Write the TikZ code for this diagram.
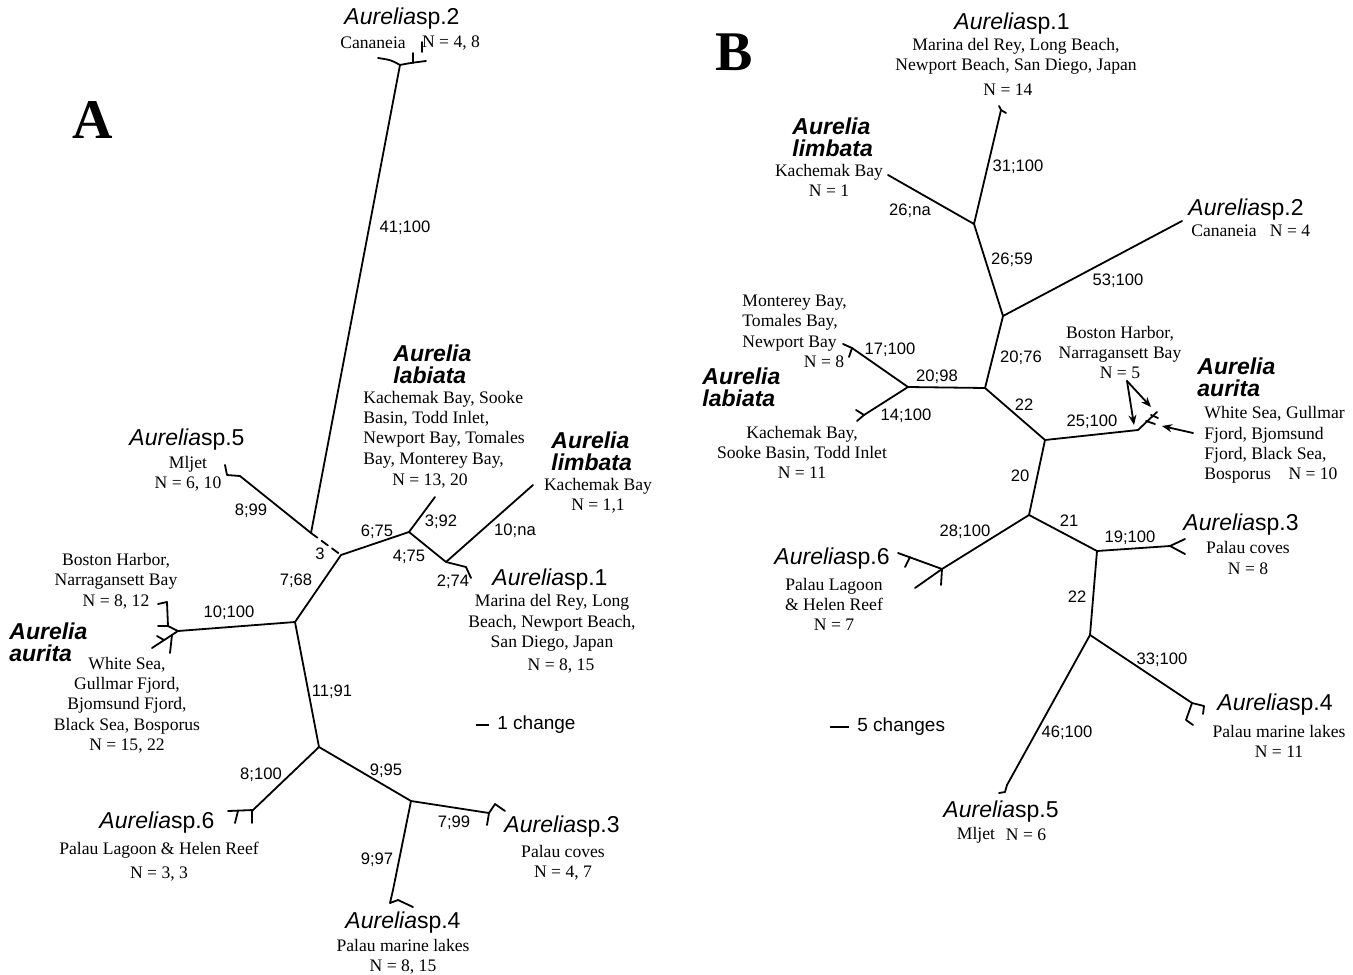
\documentclass[tikz,border=0pt]{standalone}
\usepackage{fontspec}
\setmainfont{Liberation Serif}
\setsansfont{Liberation Sans}
\usetikzlibrary{arrows.meta}
\newcommand{\aursp}[1]{\textit{Aurelia}sp.#1}
\begin{document}
\begin{tikzpicture}[x=0.5pt,y=-0.5pt,
  br/.style={line width=0.9pt, line cap=round, line join=round},
  arr/.style={br, -{Stealth[length=5pt,width=4pt]}},
  sp/.style={font=\sffamily\fontsize{11.5}{13}\selectfont, inner sep=0pt},
  loc/.style={font=\fontsize{8.8}{10.15}\selectfont, inner sep=0pt, align=center},
  locl/.style={loc, align=left},
  bl/.style={font=\sffamily\fontsize{8.3}{10}\selectfont, inner sep=0pt},
  bi/.style={font=\sffamily\bfseries\itshape\fontsize{11.5}{11}\selectfont, inner sep=0pt, align=left, anchor=west},
  panel/.style={font=\bfseries\fontsize{28}{30}\selectfont, inner sep=0pt},
  scl/.style={font=\sffamily\fontsize{9.5}{11}\selectfont, inner sep=0pt, anchor=west}]
\useasboundingbox (0,0) rectangle (1353,974);
\fill[white] (0,0) rectangle (1353,974);

% ================= Panel A =================
\node[panel] (pA) at (93,120) {A};

\coordinate (a2) at (400,65);
\coordinate (aD) at (311,533);
\coordinate (aX) at (341,555);
\coordinate (a5) at (240,476);
\coordinate (aL1) at (409,532);
\coordinate (alab) at (435,497);
\coordinate (aL2) at (446,562);
\coordinate (alim) at (533,485);
\coordinate (a1) at (466,567);
\coordinate (aN2) at (295,622);
\coordinate (aaur) at (178,631);
\coordinate (aN3) at (319,747);
\coordinate (a6) at (252,811);
\coordinate (aN4) at (411,801);
\coordinate (a3) at (489,813);
\coordinate (a4) at (393,890);

\draw[br] (a2) -- (aD);
\draw[br, dashed, dash pattern=on 4pt off 2.5pt] (aD) -- (aX);
\draw[br] (aD) -- (a5);
\draw[br] (aX) -- (aL1) -- (alab);
\draw[br] (aL1) -- (aL2) -- (alim);
\draw[br] (aL2) -- (a1);
\draw[br] (aX) -- (aN2) -- (aaur);
\draw[br] (aN2) -- (aN3) -- (a6);
\draw[br] (aN3) -- (aN4) -- (a3);
\draw[br] (aN4) -- (a4);

% tips A
\draw[br] (378,58) .. controls (391,60) .. (a2) .. controls (410,63) .. (426,61);
\draw[br] (413,63) -- (413,53);
\draw[br] (422,52) -- (422,42);
\draw[br] (a5) -- (227,475) -- (225,465);
\draw[br] (a1) -- (471,578);
\draw[br] (aaur) -- (168,626) -- (167,602) -- (158,604);
\draw[br] (168,626) -- (158,626);
\draw[br] (aaur) -- (152,648);
\draw[br] (172,635) -- (170,653);
\draw[br] (164,640) -- (157,636);
\draw[br] (228,811) -- (253,810);
\draw[br] (238,811) -- (235,823);
\draw[br] (252,810) -- (252,823);
\draw[br] (a3) -- (487,825);
\draw[br] (a3) -- (495,804) -- (505,811);
\draw[br] (a4) -- (390,903) -- (398,900) -- (413,907);

% branch labels A
\node[bl] (lA41) at (405,228) {41;100};
\node[bl] (lA899) at (251,511) {8;99};
\node[bl] (lA3) at (320,554) {3};
\node[bl] (lA675) at (377,532) {6;75};
\node[bl] (lA392) at (441,522) {3;92};
\node[bl] (lA475) at (409,557) {4;75};
\node[bl] (lA10na) at (515,531) {10;na};
\node[bl] (lA274) at (453,582) {2;74};
\node[bl] (lA768) at (296,581) {7;68};
\node[bl] (lA10100) at (229,613) {10;100};
\node[bl] (lA1191) at (332,692) {11;91};
\node[bl] (lA8100) at (261,775) {8;100};
\node[bl] (lA995) at (386,771) {9;95};
\node[bl] (lA799) at (454,823) {7;99};
\node[bl] (lA997) at (377,860) {9;97};

% taxon labels A
\node[sp] (sA2) at (402,19) {\aursp{2}};
\node[loc] (cA2) at (373,43) {Cananeia};
\node[loc] (nA2) at (451,43) {N = 4, 8};

\node[sp] (sA5) at (187,440) {\aursp{5}};
\node[loc] (cA5) at (188,473.5) {Mljet\\N = 6, 10};

\node[bi] (bA_lab) at (393,364) {Aurelia\\labiata};
\node[locl, anchor=west] (cA_lab) at (363,429.5) {Kachemak Bay, Sooke\\Basin, Todd Inlet,\\Newport Bay, Tomales\\Bay, Monterey Bay,};
\node[loc] (nA_lab) at (430,481) {N = 13, 20};

\node[bi] (bA_lim) at (551,451) {Aurelia\\limbata};
\node[loc] (cA_lim) at (598,496) {Kachemak Bay\\N = 1,1};

\node[sp] (sA1) at (550,580) {\aursp{1}};
\node[loc] (cA1) at (552,623) {Marina del Rey, Long\\Beach, Newport Beach,\\San Diego, Japan};
\node[loc] (nA1) at (561,666) {N = 8, 15};

\node[bi] (bA_aur) at (9,642) {Aurelia\\aurita};
\node[loc] (cA_aur1) at (116,581) {Boston Harbor,\\Narragansett Bay\\N = 8, 12};
\node[loc] (cA_aur2) at (127,705) {White Sea,\\Gullmar Fjord,\\Bjomsund Fjord,\\Black Sea, Bosporus\\N = 15, 22};

\node[sp] (sA6) at (157,823) {\aursp{6}};
\node[loc] (cA6) at (159,861.5) {Palau Lagoon \& Helen Reef\\[1.5pt]N = 3, 3};

\node[sp] (sA3) at (562,827) {\aursp{3}};
\node[loc] (cA3) at (563,863) {Palau coves\\N = 4, 7};

\node[sp] (sA4) at (403,923) {\aursp{4}};
\node[loc] (cA4) at (403,956.5) {Palau marine lakes\\N = 8, 15};

\coordinate (scA1) at (476,725);
\coordinate (scA2) at (489,725);
\draw[br, line cap=butt] (scA1) -- (scA2);
\node[scl] (tscA) at (497,725) {1 change};

% ================= Panel B =================
\node[panel] (pB) at (734,52) {B};

\coordinate (b1t) at (1001,110);
\coordinate (bB1) at (974,224);
\coordinate (blim) at (888,175);
\coordinate (bB2) at (1003,316);
\coordinate (b2t) at (1182,221);
\coordinate (bB3) at (985,388);
\coordinate (bB4) at (908,387);
\coordinate (blabA) at (852,348);
\coordinate (blabB) at (864,415);
\coordinate (bB5) at (1045,440);
\coordinate (baur) at (1138,430);
\coordinate (bB6) at (1029,515);
\coordinate (b6t) at (942,569);
\coordinate (bB7) at (1097,551);
\coordinate (b3t) at (1170,546);
\coordinate (bB8) at (1090,635);
\coordinate (b4t) at (1192,703);
\coordinate (b5t) at (1007,785);

\draw[br] (b1t) -- (bB1) -- (blim);
\draw[br] (bB1) -- (bB2) -- (b2t);
\draw[br] (bB2) -- (bB3) -- (bB4) -- (blabA);
\draw[br] (bB4) -- (blabB);
\draw[br] (bB3) -- (bB5) -- (baur);
\draw[br] (bB5) -- (bB6) -- (b6t);
\draw[br] (bB6) -- (bB7) -- (b3t);
\draw[br] (bB7) -- (bB8) -- (b4t);
\draw[br] (bB8) -- (b5t);

% tips B
\draw[br] (b1t) -- (1006,113);
\draw[br] (999,106) -- (b1t);
\draw[br] (blabA) -- (843,344);
\draw[br] (blabA) -- (849,357);
\draw[br] (blabB) -- (856,410);
\draw[br] (blabB) -- (857,421);
\draw[br] (baur) -- (1157,412);
\draw[br] (1146,421) -- (1155,424);
\draw[br] (1151,415) -- (1158,418);
\draw[br] (b6t) -- (898,553);
\draw[br] (910,557) -- (905,567);
\draw[br] (b6t) -- (915,588);
\draw[br] (b6t) -- (941,585);
\draw[br] (b3t) -- (1185,539);
\draw[br] (b3t) -- (1185,554);
\draw[br] (b4t) -- (1204,706) -- (1203,714);
\draw[br] (b4t) -- (1186,720) -- (1193,725);
\draw[br] (b5t) -- (1005,792) -- (999,793);

% arrows B
\coordinate (bN5) at (1127,381);
\coordinate (bWS) at (1193,433);
\draw[arr] (bN5) -- (1134,425);
\draw[arr] (bN5) -- (1151,407);
\draw[arr] (bWS) -- (1162,426);

% branch labels B
\node[bl] (lB31) at (1018,167) {31;100};
\node[bl] (lB26na) at (910,211) {26;na};
\node[bl] (lB2659) at (1012,260) {26;59};
\node[bl] (lB53) at (1118,281) {53;100};
\node[bl] (lB17) at (890,350) {17;100};
\node[bl] (lB14) at (906,416) {14;100};
\node[bl] (lB2098) at (937,377) {20;98};
\node[bl] (lB2076) at (1021,358) {20;76};
\node[bl] (lB22a) at (1024,405) {22};
\node[bl] (lB25) at (1092,422) {25;100};
\node[bl] (lB20) at (1020,476) {20};
\node[bl] (lB28) at (965,532) {28;100};
\node[bl] (lB21) at (1069,521) {21};
\node[bl] (lB19) at (1130,538) {19;100};
\node[bl] (lB22b) at (1077,597) {22};
\node[bl] (lB33) at (1162,660) {33;100};
\node[bl] (lB46) at (1067,733) {46;100};

% taxon labels B
\node[sp] (sB1) at (1012,24) {\aursp{1}};
\node[loc] (cB1) at (1016,56) {Marina del Rey, Long Beach,\\Newport Beach, San Diego, Japan};
\node[loc] (nB1) at (1008,90) {N = 14};

\node[bi] (bB_lim) at (792,137.5) {Aurelia\\limbata};
\node[loc] (cB_lim) at (829,180.5) {Kachemak Bay\\N = 1};

\node[sp] (sB2) at (1246,210) {\aursp{2}};
\node[loc] (cB2) at (1224,231) {Cananeia};
\node[loc] (nB2) at (1290,231) {N = 4};

\node[locl, anchor=west] (cB_labA) at (742,323) {Monterey Bay,\\Tomales Bay,\\Newport Bay};
\node[loc] (nB_labA) at (824,362) {N = 8};
\node[bi] (bB_lab) at (702,387.5) {Aurelia\\labiata};
\node[loc] (cB_labB) at (802,452.5) {Kachemak Bay,\\Sooke Basin, Todd Inlet\\N = 11};

\node[loc] (cB_aur1) at (1120,352.5) {Boston Harbor,\\Narragansett Bay\\N = 5};
\node[bi] (bB_aur) at (1197,377.5) {Aurelia\\aurita};
\node[locl, anchor=west] (cB_aur2) at (1204,445) {White Sea, Gullmar\\Fjord, Bjomsund\\Fjord, Black Sea,\\Bosporus\quad N = 10};

\node[sp] (sB3) at (1241,525) {\aursp{3}};
\node[loc] (cB3) at (1248,558) {Palau coves\\N = 8};

\node[sp] (sB6) at (832,559) {\aursp{6}};
\node[loc] (cB6) at (834,604.5) {Palau Lagoon\\\& Helen Reef\\N = 7};

\node[sp] (sB4) at (1275,705) {\aursp{4}};
\node[loc] (cB4) at (1279,741.5) {Palau marine lakes\\N = 11};

\node[sp] (sB5) at (1001,812) {\aursp{5}};
\node[loc] (cB5) at (976,835) {Mljet};
\node[loc] (nB5) at (1026,835) {N = 6};

\coordinate (scB1) at (830,727);
\coordinate (scB2) at (849,727);
\draw[br, line cap=butt] (scB1) -- (scB2);
\node[scl] (tscB) at (857,727) {5 changes};
\end{tikzpicture}
\end{document}
